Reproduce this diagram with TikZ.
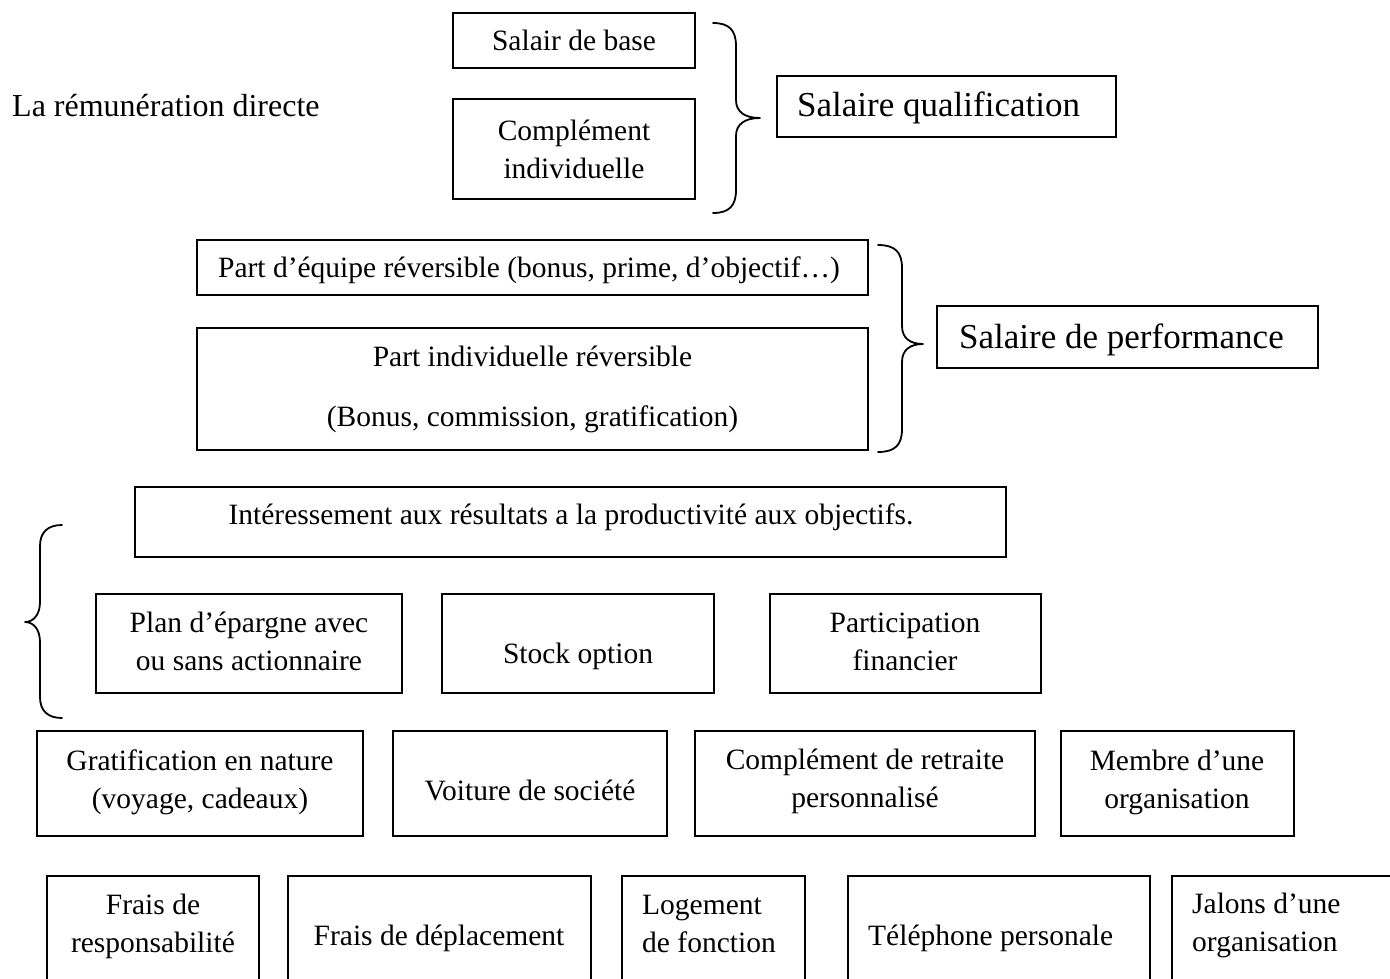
\documentclass[tikz,border=0pt]{standalone}
\usepackage{fontspec}
\setmainfont{Liberation Serif}
\begin{document}
\begin{tikzpicture}[x=1pt,y=-1pt,
  box/.style={draw, line width=1.6pt, inner sep=0pt, align=center,
              font=\fontsize{29.5}{38}\selectfont},
  txt/.style={inner sep=0pt, align=center, font=\fontsize{29.5}{38}\selectfont},
  ltxt/.style={txt, align=left, anchor=west},
  big/.style={font=\fontsize{35}{42}\selectfont},
  brace/.style={line width=1.8pt, line cap=round, line join=round}]
\useasboundingbox (0,0) rectangle (1390,978);

% --- direct pay: qualification ---
\node[ltxt, font=\fontsize{32}{38}\selectfont] (remu) at (12,106) {La rémunération directe};
\node[box, minimum width=242, minimum height=55] (base) at (574,40.5) {Salair de base};
\node[box, minimum width=242, minimum height=100] (compl) at (574,149) {Complément\\individuelle};
\node[box, minimum width=339, minimum height=61] (qualif) at (946.5,106.5) {};
\node[ltxt, big] (qualif-t) at (797,108) {Salaire qualification};
\coordinate (b1top) at (713,23);
\coordinate (b1tip) at (760,118);
\coordinate (b1bot) at (713,213);
\draw[brace] (b1top) .. controls (729,23) and (736,30) .. (736,46) -- (736,100)
  .. controls (736,112) and (745,118) .. (b1tip)
  .. controls (745,118) and (736,124) .. (736,136) -- (736,190)
  .. controls (736,206) and (729,213) .. (b1bot);

% --- performance pay ---
\node[box, minimum width=671, minimum height=55] (equipe) at (532.5,267.5) {};
\node[txt] (equipe-t) at (529,270) {Part d’équipe réversible (bonus, prime, d’objectif…)};
\node[box, minimum width=671, minimum height=122, font=\fontsize{29.5}{60}\selectfont] (indiv) at (532.5,389)
  {Part individuelle réversible\\(Bonus, commission, gratification)};
\node[box, minimum width=381, minimum height=62] (perf) at (1127.5,337) {};
\node[ltxt, big] (perf-t) at (959,340) {Salaire de performance};
\coordinate (b2top) at (878,245);
\coordinate (b2tip) at (923,344);
\coordinate (b2bot) at (878,452);
\draw[brace] (b2top) .. controls (895,245) and (902,252) .. (902,268) -- (902,326)
  .. controls (902,338) and (910,344) .. (b2tip)
  .. controls (910,344) and (902,350) .. (902,362) -- (902,429)
  .. controls (902,445) and (895,452) .. (b2bot);

% --- profit sharing ---
\node[box, minimum width=871, minimum height=70] (inter) at (570.5,522) {};
\node[txt] (inter-t) at (571,517) {Intéressement aux résultats a la productivité aux objectifs.};
\node[box, minimum width=306, minimum height=99] (plan) at (249,643.5) {};
\node[txt] (plan-t) at (249,641) {Plan d’épargne avec\\ou sans actionnaire};
\node[box, minimum width=272, minimum height=99] (stock) at (578,643.5) {};
\node[txt] (stock-t) at (578,656) {Stock option};
\node[box, minimum width=271, minimum height=99] (partic) at (905.5,643.5) {};
\node[txt] (partic-t) at (905,642) {Participation\\financier};
\coordinate (b3top) at (62,525);
\coordinate (b3tip) at (25,622);
\coordinate (b3bot) at (62,718);
\draw[brace] (b3top) .. controls (48,525) and (40,532) .. (40,546) -- (40,602)
  .. controls (40,614) and (34,622) .. (b3tip)
  .. controls (34,622) and (40,630) .. (40,642) -- (40,697)
  .. controls (40,711) and (48,718) .. (b3bot);

% --- benefits in kind ---
\node[box, minimum width=326, minimum height=105] (grat) at (200,783.5) {};
\node[txt] (grat-t) at (200,782) {Gratification en nature\\(voyage, cadeaux)};
\node[box, minimum width=274, minimum height=105] (voit) at (530,783.5) {};
\node[txt] (voit-t) at (530,790) {Voiture de société};
\node[box, minimum width=340, minimum height=105] (retr) at (865,783.5) {};
\node[txt] (retr-t) at (865,781) {Complément de retraite\\personnalisé};
\node[box, minimum width=233, minimum height=105] (membre) at (1177.5,783.5) {};
\node[txt] (membre-t) at (1177,782) {Membre d’une\\organisation};

% --- allowances ---
\node[box, minimum width=212, minimum height=124] (resp) at (153,938) {};
\node[txt] (resp-t) at (153,926) {Frais de\\responsabilité};
\node[box, minimum width=303, minimum height=124] (depl) at (439.5,938) {};
\node[txt] (depl-t) at (439,938) {Frais de déplacement};
\node[box, minimum width=183, minimum height=124] (loge) at (713.5,938) {};
\node[ltxt] (loge-t) at (642,924) {Logement\\de fonction};
\node[box, minimum width=302, minimum height=124] (tel) at (999,938) {};
\node[ltxt] (tel-t) at (868,938) {Téléphone personale};
\node[box, minimum width=248, minimum height=124] (jalons) at (1296,938) {};
\node[ltxt] (jalons-t) at (1192,925) {Jalons d’une\\organisation};
\end{tikzpicture}
\end{document}
